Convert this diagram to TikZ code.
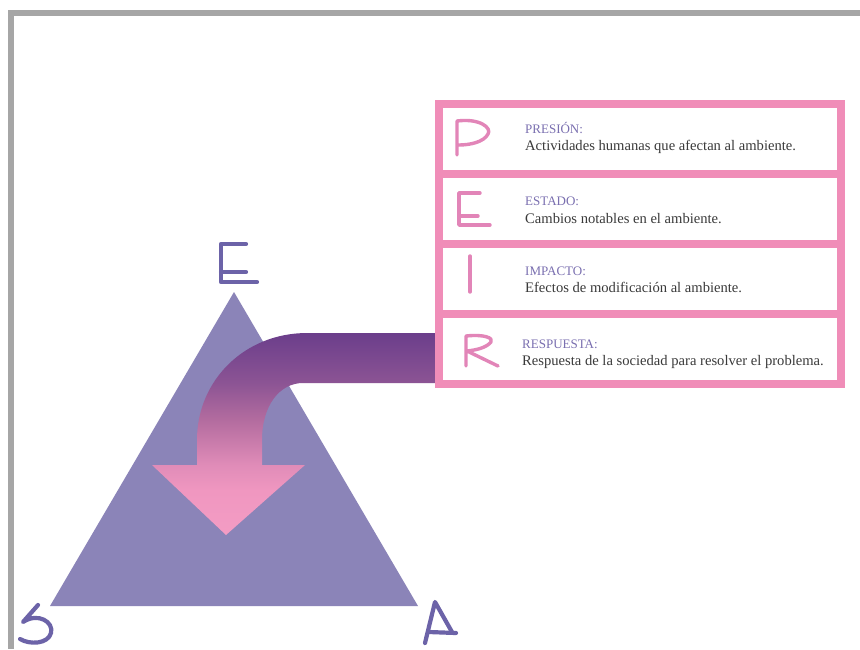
\documentclass[tikz,border=0pt]{standalone}
\usepackage{fontspec}
\setmainfont{Liberation Serif}
\definecolor{framegray}{HTML}{A6A6A6}
\definecolor{tri}{HTML}{8B84B8}
\definecolor{triletter}{HTML}{6C63A8}
\definecolor{pinkframe}{HTML}{F08DB8}
\definecolor{pinkletter}{HTML}{E285B8}
\definecolor{ttlcol}{HTML}{7A6FB0}
\definecolor{bodycol}{HTML}{3A3A3A}
\definecolor{sA}{HTML}{F39CC4}
\definecolor{sB}{HTML}{F097C0}
\definecolor{sC}{HTML}{E08CB8}
\definecolor{sD}{HTML}{B36C9F}
\definecolor{sE}{HTML}{8C5494}
\definecolor{sF}{HTML}{6B3E8B}
\pgfdeclareverticalshading{arrowshade}{100bp}{color(0bp)=(sA); color(25bp)=(sA); color(36bp)=(sB); color(42.3bp)=(sC); color(53.5bp)=(sD); color(62.6bp)=(sE); color(75bp)=(sF); color(100bp)=(sF)}
\tikzset{
  triletterstyle/.style={draw=triletter, line width=4.2pt, line cap=round, line join=round},
  pinkletterstyle/.style={draw=pinkletter, line width=3.4pt, line cap=round, line join=round},
  ttl/.style={anchor=base west, inner sep=0pt, text=ttlcol, font=\fontsize{13}{15}\selectfont},
  bodytxt/.style={anchor=base west, inner sep=0pt, text=bodycol, font=\fontsize{14.6}{16}\selectfont},
  rowbox/.style={fill=white, draw=none}
}
\begin{document}
\begin{tikzpicture}[x=1pt,y=-1pt]
\useasboundingbox (0,0) rectangle (860,649);
\fill[white] (0,0) rectangle (860,649);
% gray frame
\fill[framegray] (8,10) rectangle (860,16);
\fill[framegray] (8,10) rectangle (14,649);
% triangle
\coordinate (apex) at (234,292);
\coordinate (bl) at (50,606);
\coordinate (br) at (418,606);
\fill[tri] (apex) -- (br) -- (bl) -- cycle;
% arrow
\shade[shading=arrowshade]
  (440,333) -- (307,333) .. controls (245,333) and (197,380) .. (197,440)
  -- (197,465) -- (152,465) -- (226,535) -- (305,465) -- (262,465) -- (262,440)
  .. controls (262,405) and (280,383) .. (303,383) -- (440,383) -- cycle;
% pink frame
\fill[pinkframe] (435,100) rectangle (845,388);
\fill[rowbox] (443,108) rectangle (837,170);
\fill[rowbox] (443,178) rectangle (837,240);
\fill[rowbox] (443,248) rectangle (837,310);
\fill[rowbox] (443,318) rectangle (837,380);
% triangle letters
\draw[triletterstyle] (246,244) -- (221,244) -- (221,282) -- (257,282);
\draw[triletterstyle] (221,272) -- (246,272);
\draw[triletterstyle] (38,605) -- (23,622) .. controls (38,612) and (54,622) .. (51,633) .. controls (48,644) and (30,645) .. (20,639);
\draw[triletterstyle] (425,643) -- (435,602) -- (452,632);
\draw[triletterstyle] (429,632) -- (456,633);
% pink letters
\draw[pinkletterstyle] (457,155) -- (457,121) .. controls (480,118) and (492,128) .. (488,134) .. controls (484,142) and (470,145) .. (459,145);
\draw[pinkletterstyle] (480,193) -- (459,193) -- (459,225) -- (490,225);
\draw[pinkletterstyle] (459,216) -- (478,216);
\draw[pinkletterstyle] (470,256) -- (470,292);
\draw[pinkletterstyle] (466,366) -- (466,336) .. controls (484,334) and (494,338) .. (491,342) .. controls (486,348) and (476,350) .. (467,351) -- (498,366);
% texts
\node[ttl] (t1) at (525,133) {PRESIÓN:};
\node[bodytxt] (b1) at (525,150) {Actividades humanas que afectan al ambiente.};
\node[ttl] (t2) at (525,205) {ESTADO:};
\node[bodytxt] (b2) at (525,223) {Cambios notables en el ambiente.};
\node[ttl] (t3) at (525,275) {IMPACTO:};
\node[bodytxt] (b3) at (525,292) {Efectos de modificación al ambiente.};
\node[ttl] (t4) at (522,348) {RESPUESTA:};
\node[bodytxt] (b4) at (522,365) {Respuesta de la sociedad para resolver el problema.};
\end{tikzpicture}
\end{document}
